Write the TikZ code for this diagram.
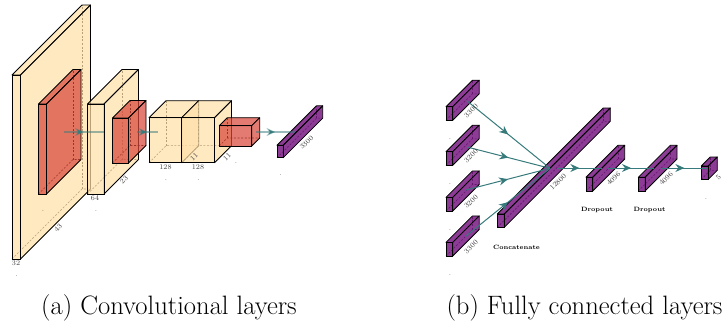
\documentclass[tikz,border=0pt]{standalone}
\usetikzlibrary{
  arrows.meta,
  decorations.markings
}
\definecolor{layeryellow}{HTML}{FFE0A8}
\definecolor{layerred}{HTML}{D9483B}
\definecolor{layerpurple}{HTML}{781A82}
\definecolor{flowteal}{HTML}{377A7B}
\tikzset{
  % For the faces of a cuboid.
  yellow face/.style={
    fill=layeryellow,
    fill opacity=0.72},
  red face/.style={
    fill=layerred,
    fill opacity=0.72},
  purple face/.style={
    fill=layerpurple,
    fill opacity=0.85},
%
  % For visible and hidden edges.
  edge line/.style={
    line width=0.8pt,
    line join=round},
  hidden line/.style={
    line width=0.55pt,
    dash pattern=on 2pt off 1.6pt},
%
  % For the connections between layers.
  flow/.style={
    draw=flowteal,
    line width=1pt,
    postaction={decorate},
    decoration={markings,
      mark=at position 0.5 with {\arrow[flowteal]{Stealth[length=9pt,width=8pt,inset=3pt]}}}},
  faint flow/.style={
    flow,
    line width=1.3pt,
    draw opacity=0.5},
%
  % For the small numbers next to a layer.
  dimension/.style={
    font=\fontsize{7.2}{8}\selectfont,
    inner sep=0pt,
    text=black!75},
  slanted dimension/.style={
    dimension,
    rotate=45},
  note/.style={
    font=\fontsize{6.2}{7}\selectfont\bfseries,
    inner sep=0pt},
  caption/.style={
    font=\fontsize{26.6}{30}\selectfont,
    inner sep=0pt,
    anchor=base}
}
% #1 face style, #2 left, #3 bottom of the front face, #4 width, #5 height, #6 depth
\newcommand{\cuboid}[6]{
  \draw[hidden line] (#2,#3) -- ++(#6,-#6) -- ++(#4,0);
  \draw[hidden line] (#2+#6,#3-#6) -- ++(0,-#5);
  \draw[#1, edge line] (#2,#3-#5) -- ++(#6,-#6) -- ++(#4,0) -- ++(-#6,#6) -- cycle;
  \draw[#1, edge line] (#2+#4,#3) -- ++(#6,-#6) -- ++(0,-#5) -- ++(-#6,#6) -- cycle;
  \draw[#1, line width=1pt] (#2,#3) rectangle ++(#4,-#5);
}

\begin{document}
\begin{tikzpicture}[x=1pt,y=-1pt]
  \useasboundingbox (0,0) rectangle (725,327);

  % Convolutional layers
  \cuboid{yellow face}{12}{259}{8.5}{184}{70}
  \cuboid{red face}{38.5}{194}{8}{90}{34.5}
  \cuboid{yellow face}{87.5}{194}{16.5}{90}{34.5}
  \cuboid{red face}{112.5}{163}{16}{45}{17.5}
  \cuboid{yellow face}{149}{162.7}{32.7}{45}{17}
  \cuboid{yellow face}{181.7}{162.7}{32.8}{45}{17}
  \cuboid{red face}{219.3}{146}{32.4}{20.3}{8}
  \cuboid{purple face}{277}{157.7}{6.2}{12.4}{39.5}

  \coordinate (conv a out) at (64,132);
  \coordinate (conv b in) at (104,132);
  \coordinate (conv b out) at (137,132);
  \coordinate (conv c in) at (158,132);
  \coordinate (conv d out) at (256,132);
  \coordinate (flat in) at (295,132);
  \draw[faint flow] (conv a out) -- (conv b in);
  \draw[faint flow] (conv b out) -- (conv c in);
  \draw[faint flow] (conv d out) -- (flat in);

  \node[dimension] (dim a) at (16,263.5) {32};
  \node[dimension] (dot a) at (16.5,276) {.};
  \node[slanted dimension] (side a) at (58,228) {43};
  \node[dimension] (dot red a) at (43,211) {.};
  \node[dimension] (dim b) at (95,198.5) {64};
  \node[dimension] (dot b) at (96,211) {.};
  \node[slanted dimension] (side b) at (124,180) {23};
  \node[dimension] (dim c) at (165.5,167.5) {128};
  \node[dimension] (dot c) at (166,180) {.};
  \node[slanted dimension] (side c) at (194,157) {11};
  \node[dimension] (dim d) at (198,167.5) {128};
  \node[dimension] (dot d) at (198.5,180) {.};
  \node[slanted dimension] (side d) at (227,157) {11};
  \node[dimension] (dot e) at (236,163) {.};
  \node[slanted dimension] (side flat) at (306.5,142.5) {3300};
  \node[dimension] (dot flat) at (280.5,175) {.};

  % Fully connected layers
  \cuboid{purple face}{446}{120.3}{6.7}{13.6}{26.5}
  \cuboid{purple face}{446}{165.3}{6.7}{13.6}{26.5}
  \cuboid{purple face}{446}{211}{6.7}{13.6}{26.5}
  \cuboid{purple face}{446}{256}{6.7}{13.6}{26.5}
  \cuboid{purple face}{497.3}{227.3}{7}{13.3}{106}
  \cuboid{purple face}{586}{191}{6.7}{13.7}{32}
  \cuboid{purple face}{638.3}{191}{6.7}{13.7}{32}
  \cuboid{purple face}{701.3}{179.3}{7}{13.3}{9}

  \coordinate (input a) at (466.7,100.7);
  \coordinate (input b) at (467,147);
  \coordinate (input c) at (466,190);
  \coordinate (input d) at (466,236);
  \coordinate (merge) at (550,168.3);
  \coordinate (merge out) at (556.7,168);
  \coordinate (dense a in) at (602,168);
  \coordinate (dense a out) at (608,168);
  \coordinate (dense b in) at (654,168);
  \coordinate (dense b out) at (660.7,168);
  \coordinate (output) at (708,168);
  \draw[flow] (input a) -- (merge);
  \draw[flow] (input b) -- (merge);
  \draw[flow] (input c) -- (merge);
  \draw[flow] (input d) -- (merge);
  \draw[flow] (merge out) -- (dense a in);
  \draw[flow] (dense a out) -- (dense b in);
  \draw[flow] (dense b out) -- (output);

  \node[slanted dimension] (side in a) at (471,111) {3300};
  \node[dimension] (dot in a) at (450,139) {.};
  \node[slanted dimension] (side in b) at (471,156) {3200};
  \node[dimension] (dot in b) at (450,184.5) {.};
  \node[slanted dimension] (side in c) at (471,201.5) {3200};
  \node[dimension] (dot in c) at (450,230) {.};
  \node[slanted dimension] (side in d) at (471,247) {3300};
  \node[dimension] (dot in d) at (450,275) {.};
  \node[slanted dimension] (side merge) at (558,182) {12800};
  \node[slanted dimension] (side dense a) at (613.5,178.5) {4096};
  \node[slanted dimension] (side dense b) at (666,178.5) {4096};
  \node[slanted dimension] (side output) at (718.5,177.5) {5};
  \node[dimension] (dot output) at (706,199) {.};
  \node[note] (concat) at (516.5,247.5) {Concatenate};
  \node[note] (drop a) at (597,210) {Dropout};
  \node[note] (drop b) at (649.5,210) {Dropout};

  \node[caption] (caption a) at (169,314) {(a) Convolutional layers};
  \node[caption] (caption b) at (584.5,314) {(b) Fully connected layers};
\end{tikzpicture}
\end{document}
